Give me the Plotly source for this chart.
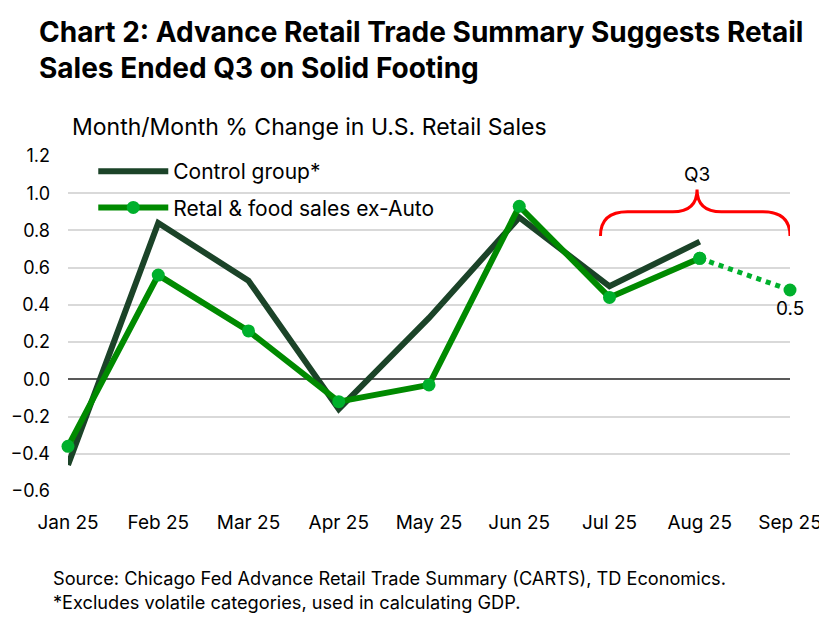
import plotly.graph_objects as go

# data
months = ['Jan 25', 'Feb 25', 'Mar 25', 'Apr 25', 'May 25', 'Jun 25', 'Jul 25', 'Aug 25', 'Sep 25']
control_group = [-0.46, 0.84, 0.53, -0.16, 0.33, 0.87, 0.50, 0.74]
retail_ex_auto = [-0.36, 0.56, 0.26, -0.12, -0.03, 0.93, 0.44, 0.65]
retail_sep_est = [0.65, 0.48]
y_ticks = [-0.6, -0.4, -0.2, 0.0, 0.2, 0.4, 0.6, 0.8, 1.0, 1.2]

fonte = 'Inter'
verde_escuro = '#1b4328'
verde = '#008a00'
verde_ponto = '#00b02c'

x = list(range(len(months)))

fig = go.Figure()
fig.add_trace(go.Scatter(x=x[:len(control_group)], y=control_group, mode='lines',
                         name='Control group*', legendgroup='a',
                         line=dict(color=verde_escuro, width=6)))
fig.add_trace(go.Scatter(x=x[:len(retail_ex_auto)], y=retail_ex_auto, mode='lines+markers',
                         name='Retal & food sales ex-Auto', legendgroup='b',
                         line=dict(color=verde, width=6),
                         marker=dict(color=verde_ponto, size=13), cliponaxis=False))
fig.add_trace(go.Scatter(x=x[7:9], y=retail_sep_est, mode='lines+markers', showlegend=False,
                         line=dict(color=verde_ponto, width=5, dash='dot'),
                         marker=dict(color=verde_ponto, size=13), cliponaxis=False))

# rótulo do ponto de setembro
fig.add_annotation(x=x[8], y=retail_sep_est[1], text=f'{retail_sep_est[1]:.1f}', showarrow=False,
                   yshift=-18, font=dict(size=19, color='black', family=fonte))

# chave vermelha do Q3
fig.add_shape(type='path', xref='x', yref='y',
              path='M 5.9,0.77 Q 5.9,0.9 6.2,0.9 L 6.7,0.9 Q 6.97,0.9 6.97,1.02 '
                   'Q 6.97,0.9 7.24,0.9 L 7.7,0.9 Q 8.0,0.9 8.0,0.77',
              line=dict(color='#ff0000', width=3))
fig.add_annotation(x=6.97, y=1.11, text='Q3', showarrow=False, yshift=-2,
                   font=dict(size=19, color='black', family=fonte))

# título e subtítulo
fig.add_annotation(xref='paper', yref='paper', x=-0.043, y=1.426, xanchor='left', yanchor='top',
                   text='<b>Chart 2: Advance Retail Trade Summary Suggests Retail<br>Sales Ended Q3 on Solid Footing</b>',
                   showarrow=False, align='left', font=dict(size=28, color='black', family=fonte))
fig.add_annotation(xref='paper', yref='paper', x=0.003, y=1.135, xanchor='left', yanchor='top',
                   text='Month/Month % Change in U.S. Retail Sales', showarrow=False,
                   font=dict(size=23, color='black', family=fonte))

# fonte
fig.add_annotation(xref='paper', yref='paper', x=-0.024, y=-0.222, xanchor='left', yanchor='top',
                   text='Source: Chicago Fed Advance Retail Trade Summary (CARTS), TD Economics.<br>'
                        '*Excludes volatile categories, used in calculating GDP.',
                   showarrow=False, align='left', font=dict(size=18.2, color='black', family=fonte))

fig.update_layout(
    width=819, height=609,
    margin=dict(l=60, r=37, t=148, b=126),
    plot_bgcolor='white', paper_bgcolor='white',
    font=dict(family=fonte, size=18, color='black'),
    showlegend=True,
    legend=dict(x=0.035, y=1.015, xanchor='left', yanchor='top', bgcolor='rgba(0,0,0,0)',
                font=dict(size=21), tracegroupgap=6, itemwidth=70),
    xaxis=dict(range=[0, 8], tickvals=x, ticktext=months, showgrid=False, zeroline=False,
               ticks='', ticklabelstandoff=18, tickfont=dict(size=19), automargin=False),
    yaxis=dict(range=[-0.6, 1.2], tickvals=y_ticks, tickformat='.1f', showgrid=True,
               gridcolor='#d9d9d9', gridwidth=2, zeroline=True, zerolinecolor='#595959',
               zerolinewidth=2, ticks='', ticklabelstandoff=17, tickfont=dict(size=18),
               automargin=False),
)

fig.write_html('out.html')
